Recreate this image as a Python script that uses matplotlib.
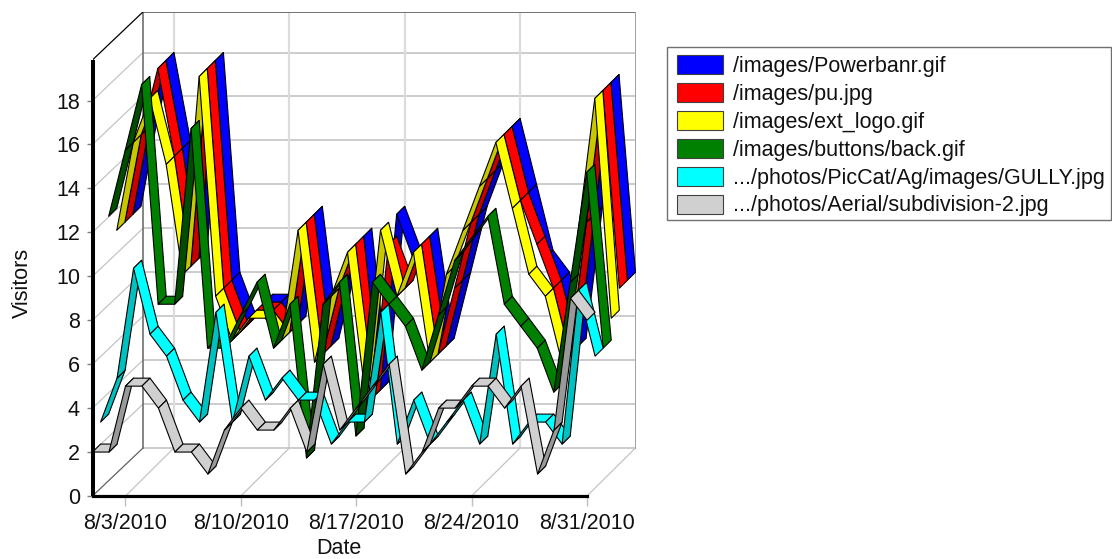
#!/usr/bin/env python3
"""3D ribbon chart of daily visitors per image, drawn on plain 2D axes with a depth offset."""
import matplotlib
matplotlib.use("Agg")
import matplotlib.pyplot as plt
from matplotlib.patches import Rectangle

plt.rcParams["font.family"] = ["Liberation Sans", "DejaVu Sans"]

W, H = 1112, 559

# front plane / back wall geometry, in pixels
LEFT, FRONT_RIGHT, BOTTOM = 92.5, 587, 496
BACK_DX, BACK_DY = 48.5, 48
TOP_BACK = 12
PX_DAY = (FRONT_RIGHT - LEFT) / 30
PX_VAL = 21.97

tick_days = [2, 9, 16, 23, 30]
tick_labels = ["8/3/2010", "8/10/2010", "8/17/2010", "8/24/2010", "8/31/2010"]
y_ticks = [0, 2, 4, 6, 8, 10, 12, 14, 16, 18]
y_top = 19.85

names = ["/images/Powerbanr.gif", "/images/pu.jpg", "/images/ext_logo.gif",
         "/images/buttons/back.gif", ".../photos/PicCat/Ag/images/GULLY.jpg",
         ".../photos/Aerial/subdivision-2.jpg"]
light = ["#0000ff", "#ff0000", "#ffff00", "#008000", "#00ffff", "#d0d0d0"]
dark = ["#0000c8", "#c80000", "#c8c800", "#004c00", "#00c0c0", "#999999"]

blue = [11, 15, 18, 14, 9, 18, 8, 6, 7, 7, 6, 11, 5, 8, 10, 3, 11, 9, 10, 5, 8, 11, 13, 15, 12, 9, 8, 5, 11, 17, 8]
red = [11, 15, 18, 14, 9, 18, 8, 6, 7, 7, 6, 11, 5, 8, 10, 3, 10, 8, 10, 5, 8, 11, 13, 15, 12, 10, 8, 5, 11, 17, 8]
yellow = [11, 15, 17, 14, 9, 18, 8, 6, 7, 7, 6, 11, 5, 8, 10, 4, 11, 8, 10, 5, 9, 11, 13, 15, 12, 9, 8, 5, 11, 17, 7]
green = [12, 15, 18, 8, 8, 16, 6, 6, 7.5, 9, 6, 8, 1, 8, 9, 2, 9, 8, 7, 5, 7.5, 10, 11, 12, 8, 7, 6, 4, 9, 14, 6]
cyan = [3, 5, 10, 7, 6, 4, 3, 8, 3, 6, 4, 5, 4, 4, 2, 3, 3, 8, 2, 4, 2, 3, 4, 2, 7, 2, 3, 3, 2, 9, 6]
gray = [2, 2, 5, 5, 4, 2, 2, 1, 3, 4, 3, 3, 4, 2, 6, 3, 4, 5, 6, 1, 2, 4, 4, 5, 5, 4, 5, 1, 3, 9, 8]
series = [blue, red, yellow, green, cyan, gray]

fig = plt.figure(figsize=(W / 100, H / 100), dpi=100, facecolor="white")
ax = fig.add_axes([LEFT / W, (H - BOTTOM) / H,
                   (FRONT_RIGHT + BACK_DX - LEFT) / W, (BOTTOM - TOP_BACK) / H])
ax.set_xlim(0, (FRONT_RIGHT + BACK_DX - LEFT) / PX_DAY)
ax.set_ylim(0, (BOTTOM - TOP_BACK) / PX_VAL)
for s in ax.spines.values():
    s.set_visible(False)

# depth of the whole box, in data units
DX = BACK_DX / PX_DAY
DY = BACK_DY / PX_VAL
WALL_X = DX + 2 / PX_DAY  # the left wall sits a touch right of the date grid
C_GRID = "#c4c4c4"

# walls and floor
for v in y_ticks[1:]:
    ax.plot([WALL_X, 30 + DX], [v + DY, v + DY], color=C_GRID, lw=1.2, zorder=1)
    ax.plot([0, WALL_X], [v, v + DY], color=C_GRID, lw=0.9, zorder=1)
for d in tick_days[:-1]:
    ax.plot([d + DX, d + DX], [DY, y_top + DY], color="#dcdcdc", lw=1.6, zorder=1)
    ax.plot([d, d + DX], [0, DY], color=C_GRID, lw=0.9, zorder=1)
ax.plot([WALL_X, 30 + DX], [DY, DY], color=C_GRID, lw=1.2, zorder=1)
ax.plot([WALL_X, WALL_X], [DY, y_top + DY], color="#707070", lw=1.2, zorder=1.5)
ax.plot([WALL_X, 30 + DX], [y_top + DY, y_top + DY], color="#707070", lw=1.4, zorder=1.5)
ax.plot([30 + DX, 30 + DX], [DY, y_top + DY], color="#a0a0a0", lw=1.4, zorder=1.5)
ax.plot([30, 30 + DX], [0, DY], color=C_GRID, lw=0.9, zorder=1)
ax.plot([0, WALL_X], [0, DY], color="#606060", lw=0.9, zorder=1)
ax.plot([0, WALL_X], [y_top, y_top + DY], color="black", lw=0.9, zorder=1.5)

# ribbons, back to front and left to right
n = len(series)
z = 2.0
for k, vals in enumerate(series):
    d0 = n - 1 - k
    x0, y0 = d0 * DX / n, d0 * DY / n
    sx, sy = DX / n, DY / n
    for i in range(len(vals) - 1):
        a, b = vals[i], vals[i + 1]
        col = dark[k] if b > a else light[k]
        ax.fill([i + x0, i + 1 + x0, i + 1 + x0 + sx, i + x0 + sx],
                [a + y0, b + y0, b + y0 + sy, a + y0 + sy],
                facecolor=col, edgecolor="black", lw=0.8, joinstyle="round",
                clip_on=False, zorder=z)
        z += 0.001

# heavy front axes
ax.plot([0, 0], [0, y_top], color="black", lw=2.9, solid_capstyle="butt", zorder=9, clip_on=False)
ax.plot([0, 30], [0, 0], color="black", lw=2.3, solid_capstyle="projecting", zorder=9, clip_on=False)

ax.set_xticks(tick_days)
ax.set_xticklabels(tick_labels, fontsize=15.5, color="#111111")
ax.set_yticks(y_ticks)
ax.tick_params(axis="x", length=7, width=1, color="#c0c0c0", pad=5)
ax.tick_params(axis="y", length=4, width=1, color="#808080", pad=5, labelsize=15.5, labelcolor="#111111")

fig.text(339 / W, 1 - 548.5 / H, "Date", ha="center", va="center", fontsize=15.5, color="#111111")
fig.text(22 / W, 1 - 283 / H, "Visitors", ha="center", va="center", rotation=90,
         fontsize=15.5, color="#111111")

# legend box, laid out in pixels
lax = fig.add_axes([0, 0, 1, 1], zorder=10)
lax.set_xlim(0, W)
lax.set_ylim(H, 0)
lax.axis("off")
lax.add_patch(Rectangle((667, 47), 444, 173, facecolor="white", edgecolor="#707070", lw=1.0))
for j, (name, col) in enumerate(zip(names, light)):
    yc = 64.5 + 27.9 * j
    lax.add_patch(Rectangle((677, yc - 9.5), 46, 19, facecolor=col, edgecolor="#404040", lw=0.8))
    lax.text(733, yc + 7.5, name, ha="left", va="baseline", fontsize=15.5, color="#111111")

fig.savefig("out.png", dpi=100, facecolor="white")
